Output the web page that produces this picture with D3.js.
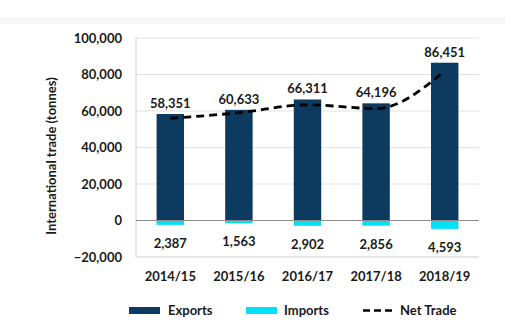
<!DOCTYPE html>
<html>
<head>
<meta charset="utf-8">
<script src="https://cdn.jsdelivr.net/npm/d3@7"></script>
<style>
  html, body { margin: 0; padding: 0; background: #fff; }
  svg { display: block; font-family: Lato, "Open Sans", sans-serif; font-weight: bold; }
</style>
</head>
<body>
<svg id="chart" width="505" height="334"></svg>
<script>
// Trade volumes by financial year (tonnes)
const years = ["2014/15", "2015/16", "2016/17", "2017/18", "2018/19"];
const exportsT = [58351, 60633, 66311, 64196, 86451];
const importsT = [2387, 1563, 2902, 2856, 4593];
const yTicks = [-20000, 0, 20000, 40000, 60000, 80000, 100000];

const netTrade = exportsT.map((v, i) => v - importsT[i]);

const svg = d3.select("#chart");
const W = 505, H = 334;
const m = { left: 136, right: 26, top: 38, bottom: 77 };

// faint header band
svg.append("rect").attr("x", 0).attr("y", 17).attr("width", W).attr("height", 7).attr("fill", "#f5f7f9");

const x = d3.scaleBand().domain(years).range([m.left, W - m.right]).paddingInner(0.6).paddingOuter(0.3);
const xc = d => x(d) + x.bandwidth() / 2;
const y = d3.scaleLinear().domain([-20000, 100000]).range([H - m.bottom, m.top]);

const fmt = d3.format(",");

// gridlines
svg.append("g").selectAll("line").data(yTicks.filter(t => t !== 0)).join("line")
  .attr("x1", m.left).attr("x2", W - m.right)
  .attr("y1", d => y(d)).attr("y2", d => y(d))
  .attr("stroke", d => d === -20000 ? "#d0d0d0" : "#e2e2e2").attr("stroke-width", 1);

// left axis line
svg.append("line").attr("x1", m.left).attr("x2", m.left)
  .attr("y1", y(100000)).attr("y2", y(-20000)).attr("stroke", "#cfcfcf");

// y tick labels
const yAxis = d3.axisLeft(y).tickValues(yTicks).tickFormat(fmt).tickSize(0).tickPadding(14);
const ya = svg.append("g").attr("transform", `translate(${m.left},0)`).call(yAxis);
ya.select(".domain").remove();
ya.selectAll("text").attr("font-size", 13).attr("font-weight", "bold").attr("fill", "#1a1a1a")
  .attr("font-family", "Lato, sans-serif");

// export bars
svg.append("g").selectAll("rect").data(years).join("rect")
  .attr("x", d => x(d)).attr("width", x.bandwidth())
  .attr("y", (d, i) => y(exportsT[i])).attr("height", (d, i) => y(0) - y(exportsT[i]))
  .attr("fill", "#0c3b5f");

// import bars (drawn below zero)
svg.append("g").selectAll("rect").data(years).join("rect")
  .attr("x", d => x(d)).attr("width", x.bandwidth())
  .attr("y", y(0)).attr("height", (d, i) => y(-importsT[i]) - y(0))
  .attr("fill", "#00e1f6");

// zero line
svg.append("line").attr("x1", m.left).attr("x2", W - m.right)
  .attr("y1", y(0)).attr("y2", y(0)).attr("stroke", "#8c8c8c").attr("stroke-width", 1.2);

// net trade line
const line = d3.line().x((d, i) => xc(years[i])).y(d => y(d)).curve(d3.curveMonotoneX);
svg.append("path").datum(netTrade).attr("d", line)
  .attr("fill", "none").attr("stroke", "#000").attr("stroke-width", 2.8)
  .attr("stroke-dasharray", "8,5");

// value labels
svg.append("g").selectAll("text").data(years).join("text")
  .attr("x", d => xc(d)).attr("y", (d, i) => y(exportsT[i]) - 6)
  .attr("text-anchor", "middle").attr("font-size", 13).attr("fill", "#1a1a1a")
  .text((d, i) => fmt(exportsT[i]));

svg.append("g").selectAll("text").data(years).join("text")
  .attr("x", d => xc(d)).attr("y", (d, i) => y(-importsT[i]) + 23)
  .attr("text-anchor", "middle").attr("font-size", 13).attr("fill", "#1a1a1a")
  .text((d, i) => fmt(importsT[i]));

// category labels
svg.append("g").selectAll("text").data(years).join("text")
  .attr("x", d => xc(d)).attr("y", 281)
  .attr("text-anchor", "middle").attr("font-size", 13).attr("fill", "#1a1a1a")
  .text(d => d);

// y axis title
svg.append("text").attr("transform", `translate(56,156) rotate(-90)`)
  .attr("text-anchor", "middle").attr("font-size", 13).attr("fill", "#1a1a1a")
  .text("International trade (tonnes)");

// legend
const lg = svg.append("g");
lg.append("rect").attr("x", 129).attr("y", 307).attr("width", 31).attr("height", 7).attr("fill", "#0c3b5f");
lg.append("text").attr("x", 168).attr("y", 315).attr("font-size", 13).attr("fill", "#1a1a1a").text("Exports");
lg.append("rect").attr("x", 246).attr("y", 307).attr("width", 31).attr("height", 7).attr("fill", "#00e1f6");
lg.append("text").attr("x", 284).attr("y", 315).attr("font-size", 13).attr("fill", "#1a1a1a").text("Imports");
lg.append("line").attr("x1", 363).attr("x2", 394).attr("y1", 310.5).attr("y2", 310.5)
  .attr("stroke", "#000").attr("stroke-width", 2.6).attr("stroke-dasharray", "7,4");
lg.append("text").attr("x", 400).attr("y", 315).attr("font-size", 13).attr("fill", "#1a1a1a").text("Net Trade");
</script>
</body>
</html>
